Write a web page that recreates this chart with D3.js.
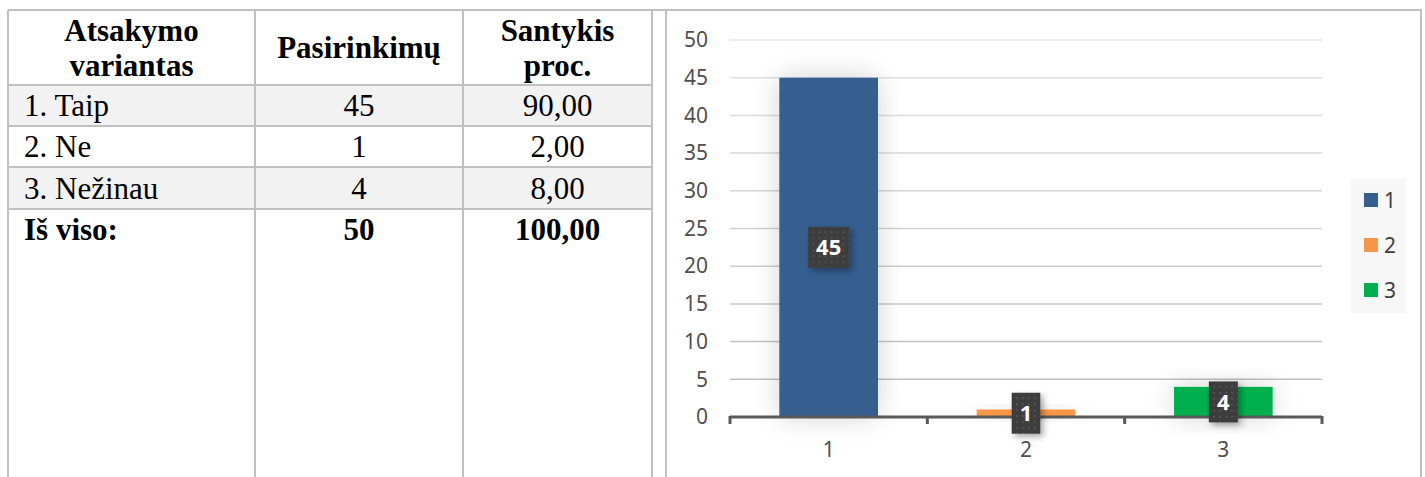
<!DOCTYPE html>
<html lang="lt">
<head>
  <meta charset="UTF-8" />
  <title>Atsakymo variantai</title>
  <script src="https://d3js.org/d3.v7.min.js"></script>
  <style>
    body { margin: 0; background: #fff; }
    svg { display: block; }
    .cell { font-family: 'Liberation Serif', 'Times New Roman', serif; font-size: 31px; fill: #000; }
    .head { font-weight: bold; }
    .tick-label { font-family: 'Noto Sans', 'Open Sans', sans-serif; font-size: 21px; fill: #505050; }
    .legend-label { font-family: 'Noto Sans', 'Open Sans', sans-serif; font-size: 21px; fill: #404040; }
    .data-label { font-family: 'Noto Sans', 'Open Sans', sans-serif; font-size: 22px; font-weight: bold; fill: #fff; }
  </style>
</head>
<body>
  <svg id="chart" width="1425" height="477"></svg>

  <script>
    // table data
    const headers = [["Atsakymo", "variantas"], ["Pasirinkimų"], ["Santykis", "proc."]];
    const options = ["1. Taip", "2. Ne", "3. Nežinau"];
    const counts = [45, 1, 4];
    const percents = ["90,00", "2,00", "8,00"];
    const totalRow = ["Iš viso:", "50", "100,00"];

    // chart data
    const categories = ["1", "2", "3"];
    const values = [45, 1, 4];
    const colors = ["#365F8F", "#F79646", "#00B050"];
    const yTicks = [0, 5, 10, 15, 20, 25, 30, 35, 40, 45, 50];

    const svg = d3.select("#chart");
    const lineColor = "#c0c0c0";

    // ---------- table ----------
    const colX = [8, 255, 463, 652];
    const rowY = [10, 85, 126, 167, 209];
    const tbl = svg.append("g");

    // shaded rows (1 and 3)
    [0, 2].forEach(i => {
      tbl.append("rect")
        .attr("x", colX[0]).attr("y", rowY[i + 1])
        .attr("width", colX[3] - colX[0]).attr("height", rowY[i + 2] - rowY[i + 1])
        .attr("fill", "#f2f2f2");
    });

    // horizontal lines
    rowY.forEach(y => {
      tbl.append("line")
        .attr("x1", colX[0]).attr("x2", colX[3])
        .attr("y1", y).attr("y2", y)
        .attr("stroke", lineColor).attr("stroke-width", 2);
    });
    // vertical lines
    colX.forEach(x => {
      tbl.append("line")
        .attr("x1", x).attr("x2", x)
        .attr("y1", rowY[0]).attr("y2", 477)
        .attr("stroke", lineColor).attr("stroke-width", 2);
    });

    // header text
    headers.forEach((lines, c) => {
      const cx = (colX[c] + colX[c + 1]) / 2;
      const mid = (rowY[0] + rowY[1]) / 2;
      lines.forEach((t, k) => {
        tbl.append("text")
          .attr("class", "cell head")
          .attr("x", cx)
          .attr("y", mid + (k - (lines.length - 1) / 2) * 35)
          .attr("dy", "0.35em")
          .attr("text-anchor", "middle")
          .text(t);
      });
    });

    // body rows
    options.forEach((opt, i) => {
      const cy = (rowY[i + 1] + rowY[i + 2]) / 2;
      tbl.append("text").attr("class", "cell")
        .attr("x", colX[0] + 16).attr("y", cy).attr("dy", "0.35em").text(opt);
      tbl.append("text").attr("class", "cell")
        .attr("x", (colX[1] + colX[2]) / 2).attr("y", cy).attr("dy", "0.35em")
        .attr("text-anchor", "middle").text(counts[i]);
      tbl.append("text").attr("class", "cell")
        .attr("x", (colX[2] + colX[3]) / 2).attr("y", cy).attr("dy", "0.35em")
        .attr("text-anchor", "middle").text(percents[i]);
    });

    // total row
    const ty = rowY[4] + 20;
    tbl.append("text").attr("class", "cell head")
      .attr("x", colX[0] + 16).attr("y", ty).attr("dy", "0.35em").text(totalRow[0]);
    tbl.append("text").attr("class", "cell head")
      .attr("x", (colX[1] + colX[2]) / 2).attr("y", ty).attr("dy", "0.35em")
      .attr("text-anchor", "middle").text(totalRow[1]);
    tbl.append("text").attr("class", "cell head")
      .attr("x", (colX[2] + colX[3]) / 2).attr("y", ty).attr("dy", "0.35em")
      .attr("text-anchor", "middle").text(totalRow[2]);

    // ---------- chart frame ----------
    svg.append("line").attr("x1", colX[3]).attr("x2", 1422).attr("y1", 10).attr("y2", 10)
      .attr("stroke", lineColor).attr("stroke-width", 2);
    svg.append("line").attr("x1", 666).attr("x2", 666).attr("y1", 10).attr("y2", 477)
      .attr("stroke", lineColor).attr("stroke-width", 2);
    svg.append("line").attr("x1", 1421).attr("x2", 1421).attr("y1", 10).attr("y2", 477)
      .attr("stroke", lineColor).attr("stroke-width", 2);

    // ---------- defs ----------
    const defs = svg.append("defs");
    const glow = defs.append("filter").attr("id", "glow")
      .attr("x", "-60%").attr("y", "-60%").attr("width", "220%").attr("height", "220%");
    glow.append("feGaussianBlur").attr("in", "SourceAlpha").attr("stdDeviation", 14).attr("result", "b");
    glow.append("feComponentTransfer").attr("in", "b").attr("result", "s")
      .append("feFuncA").attr("type", "linear").attr("slope", 0.18);
    const gm = glow.append("feMerge");
    gm.append("feMergeNode").attr("in", "s");
    gm.append("feMergeNode").attr("in", "SourceGraphic");

    const shadow = defs.append("filter").attr("id", "shadow")
      .attr("x", "-40%").attr("y", "-40%").attr("width", "180%").attr("height", "180%");
    shadow.append("feDropShadow").attr("dx", 3).attr("dy", 3).attr("stdDeviation", 3)
      .attr("flood-color", "#000").attr("flood-opacity", 0.35);

    const pat = defs.append("pattern").attr("id", "dots")
      .attr("width", 6).attr("height", 6).attr("patternUnits", "userSpaceOnUse");
    pat.append("rect").attr("width", 6).attr("height", 6).attr("fill", "#3d3d3d");
    pat.append("rect").attr("x", 2).attr("y", 2).attr("width", 1.5).attr("height", 1.5).attr("fill", "#5e5e5e");

    // ---------- scales ----------
    const x = d3.scaleBand().domain(categories).range([730, 1322]).paddingInner(0.5).paddingOuter(0.25);
    const y = d3.scaleLinear().domain([0, 50]).range([417, 40]);
    const gridColor = d3.scaleLinear().domain([50, 0]).range(["#e6e6e6", "#bcbcbc"]);

    // gridlines
    svg.append("g").selectAll("line")
      .data(yTicks.filter(d => d > 0))
      .join("line")
      .attr("x1", 730).attr("x2", 1322)
      .attr("y1", d => y(d)).attr("y2", d => y(d))
      .attr("stroke", d => gridColor(d)).attr("stroke-width", 1.5);

    // y axis labels
    const yAxis = svg.append("g")
      .attr("transform", "translate(708,0)")
      .call(d3.axisLeft(y).tickValues(yTicks).tickSize(0).tickPadding(0));
    yAxis.select(".domain").remove();
    yAxis.attr("font-size", null).attr("font-family", null);
    yAxis.selectAll("text").attr("class", "tick-label").attr("fill", null);

    // bars
    svg.append("g").selectAll("rect")
      .data(values)
      .join("rect")
      .attr("x", (d, i) => x(categories[i]))
      .attr("y", d => y(d))
      .attr("width", x.bandwidth())
      .attr("height", d => y(0) - y(d))
      .attr("fill", (d, i) => colors[i])
      .attr("filter", "url(#glow)");

    // x axis
    const xAxis = svg.append("g").attr("transform", `translate(0,${y(0)})`);
    xAxis.append("line").attr("x1", 730).attr("x2", 1322)
      .attr("stroke", "#595959").attr("stroke-width", 3);
    const bounds = [730].concat(categories.map(c => x(c) + x.bandwidth() + x.step() * 0.25));
    xAxis.selectAll(".tk").data(bounds).join("line")
      .attr("x1", d => d).attr("x2", d => d)
      .attr("y1", -1).attr("y2", 7)
      .attr("stroke", "#595959").attr("stroke-width", 3);
    xAxis.selectAll(".xl").data(categories).join("text")
      .attr("class", "tick-label")
      .attr("x", d => x(d) + x.bandwidth() / 2)
      .attr("y", 33)
      .attr("dy", "0.35em")
      .attr("text-anchor", "middle")
      .text(d => d);

    // data labels
    const lab = svg.append("g").selectAll("g")
      .data(values)
      .join("g")
      .attr("transform", (d, i) => `translate(${x(categories[i]) + x.bandwidth() / 2},${(y(d) + y(0)) / 2})`);
    lab.append("rect").attr("class", "box")
      .attr("fill", "url(#dots)")
      .attr("filter", "url(#shadow)");
    lab.append("text").attr("class", "data-label")
      .attr("text-anchor", "middle").attr("dy", "0.36em")
      .text(d => d);
    lab.each(function () {
      const g = d3.select(this);
      const w = g.select("text").node().getBBox().width + 16;
      g.select("rect").attr("x", -w / 2).attr("y", -20.5).attr("width", w).attr("height", 41);
    });

    // legend
    const legend = svg.append("g");
    legend.append("rect").attr("x", 1351).attr("y", 178).attr("width", 55).attr("height", 135).attr("fill", "#f7f7f7");
    const li = legend.selectAll("g").data(categories).join("g")
      .attr("transform", (d, i) => `translate(1364,${200 + i * 45})`);
    li.append("rect").attr("x", 0).attr("y", -7).attr("width", 14).attr("height", 14)
      .attr("fill", (d, i) => colors[i]);
    li.append("text").attr("class", "legend-label").attr("x", 20).attr("dy", "0.36em").text(d => d);
  </script>
</body>
</html>
